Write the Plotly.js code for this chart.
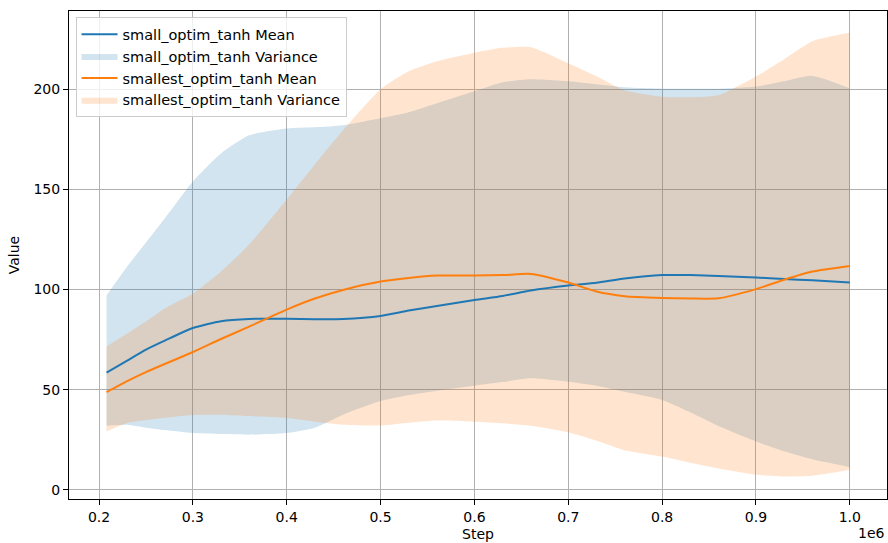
<!DOCTYPE html>
<html>
<head>
<meta charset="utf-8">
<script src="https://cdn.plot.ly/plotly-3.0.1.min.js"></script>
<style>html,body{margin:0;padding:0;background:#fff;}#chart{width:888px;height:543px;}</style>
</head>
<body>
<div id="chart"></div>
<script>
// Training steps
const steps = [208000, 230000, 250000, 270000, 300000, 330000, 360000, 400000, 430000, 460000,
               500000, 530000, 560000, 600000, 630000, 660000, 700000, 730000, 760000, 800000,
               830000, 860000, 900000, 930000, 960000, 1000000];

// small_optim_tanh
const smallMean  = [58.5, 64.5, 70, 74.5, 80.8, 84.2, 85.3, 85.4, 85.2, 85.3,
                    86.8, 89.5, 91.8, 94.8, 96.8, 99.5, 102, 103.4, 105.5, 107.2,
                    107.2, 106.8, 106, 105.3, 104.6, 103.5];
const smallUpper = [97, 111.5, 123.5, 135.5, 154, 168, 177, 180.4, 181, 182,
                    185.5, 188.5, 193, 199, 203.5, 205, 204, 202.5, 201, 200.3,
                    200.3, 200.3, 201.4, 204, 206.7, 200.5];
const smallLower = [32, 32.5, 31, 29.8, 28.3, 27.8, 27.5, 28.3, 31, 37.5,
                    44.3, 47.3, 49.5, 52, 53.8, 55.7, 54, 52, 49, 44.9,
                    38.7, 31.8, 24.1, 19.2, 15.2, 11.3];

// smallest_optim_tanh
const smallestMean  = [48.8, 54.3, 58.8, 62.8, 68.8, 75.3, 81.5, 90, 95.5, 99.8,
                       104, 105.8, 107, 107, 107.2, 107.8, 103.5, 99, 96.7, 95.8,
                       95.5, 95.6, 100.2, 104.9, 109, 111.8];
const smallestUpper = [71.5, 78, 84, 90.5, 98, 109, 122.5, 145, 162.5, 179.5,
                       200, 209, 214, 218.3, 220.7, 221, 213, 206.5, 199.5, 196.3,
                       196, 197, 206.4, 215, 224, 228.2];
const smallestLower = [29.1, 33.3, 34.8, 36, 37.4, 37.5, 36.8, 35.8, 34, 32.5,
                       32.1, 33.5, 34.6, 34, 33.2, 32, 28.7, 24.5, 19.8, 16.6,
                       13.5, 10.6, 7.5, 6.6, 7, 10];

// Axis ticks
const xTickVals = [200000, 300000, 400000, 500000, 600000, 700000, 800000, 900000, 1000000];
const xTickText = ['0.2', '0.3', '0.4', '0.5', '0.6', '0.7', '0.8', '0.9', '1.0'];
const yTickVals = [0, 50, 100, 150, 200];

const names = ['small_optim_tanh', 'smallest_optim_tanh'];
const BLUE = '#1f77b4', ORANGE = '#ff7f0e';
const sm = {shape: 'spline', smoothing: 0.6};
const clear = Object.assign({color: 'rgba(0,0,0,0)', width: 0}, sm);

const traces = [
  {x: steps, y: smallLower, type: 'scatter', mode: 'lines', showlegend: false,
   line: clear, hoverinfo: 'skip', legendgroup: 'b'},
  {x: steps, y: smallUpper, type: 'scatter', mode: 'lines', name: names[0] + ' Variance',
   fill: 'tonexty', fillcolor: 'rgba(31,119,180,0.2)', line: clear, legendgroup: 'b', legendrank: 2},
  {x: steps, y: smallestLower, type: 'scatter', mode: 'lines', showlegend: false,
   line: clear, hoverinfo: 'skip', legendgroup: 'd'},
  {x: steps, y: smallestUpper, type: 'scatter', mode: 'lines', name: names[1] + ' Variance',
   fill: 'tonexty', fillcolor: 'rgba(255,127,14,0.2)', line: clear, legendgroup: 'd', legendrank: 4},
  {x: steps, y: smallMean, type: 'scatter', mode: 'lines', name: names[0] + ' Mean',
   line: Object.assign({color: BLUE, width: 2}, sm), legendgroup: 'a', legendrank: 1},
  {x: steps, y: smallestMean, type: 'scatter', mode: 'lines', name: names[1] + ' Mean',
   line: Object.assign({color: ORANGE, width: 2}, sm), legendgroup: 'c', legendrank: 3}
];

const FONT = 'DejaVu Sans, sans-serif';
const FS = 14;
const layout = {
  width: 888, height: 543,
  margin: {l: 69, r: 1, t: 11, b: 44},
  paper_bgcolor: '#ffffff', plot_bgcolor: '#ffffff',
  font: {family: FONT, size: FS, color: '#000000'},
  showlegend: true,
  legend: {x: 0.008, y: 0.987, xanchor: 'left', yanchor: 'top',
           bgcolor: 'rgba(255,255,255,0.8)', bordercolor: '#cccccc', borderwidth: 1,
           font: {family: FONT, size: 14.5, color: '#000000'},
           itemwidth: 36,
           traceorder: 'grouped', tracegroupgap: 0},
  xaxis: {
    range: [168000, 1039600], autorange: false,
    tickmode: 'array', tickvals: xTickVals, ticktext: xTickText,
    showgrid: true, gridcolor: '#b0b0b0', gridwidth: 1,
    showline: true, linecolor: '#000000', linewidth: 1, mirror: true,
    ticks: 'outside', ticklen: 5, tickcolor: '#000000', zeroline: false,
    tickfont: {family: FONT, size: FS, color: '#000000'},
    title: {text: 'Step', font: {family: FONT, size: FS, color: '#000000'}, standoff: 5},
    automargin: false
  },
  yaxis: {
    range: [-4.6, 239.1], autorange: false,
    tickmode: 'array', tickvals: yTickVals,
    showgrid: true, gridcolor: '#b0b0b0', gridwidth: 1,
    showline: true, linecolor: '#000000', linewidth: 1, mirror: true,
    ticks: 'outside', ticklen: 5, tickcolor: '#000000', zeroline: false,
    tickfont: {family: FONT, size: FS, color: '#000000'},
    title: {text: 'Value', font: {family: FONT, size: FS, color: '#000000'}, standoff: 10},
    automargin: false
  },
  annotations: [
    {text: '1e6', xref: 'paper', yref: 'paper', x: 1, y: 0, xanchor: 'right', yanchor: 'bottom',
     yshift: -44, showarrow: false, font: {family: FONT, size: FS, color: '#000000'}}
  ]
};

Plotly.newPlot('chart', traces, layout, {displayModeBar: false, staticPlot: true});
</script>
</body>
</html>
